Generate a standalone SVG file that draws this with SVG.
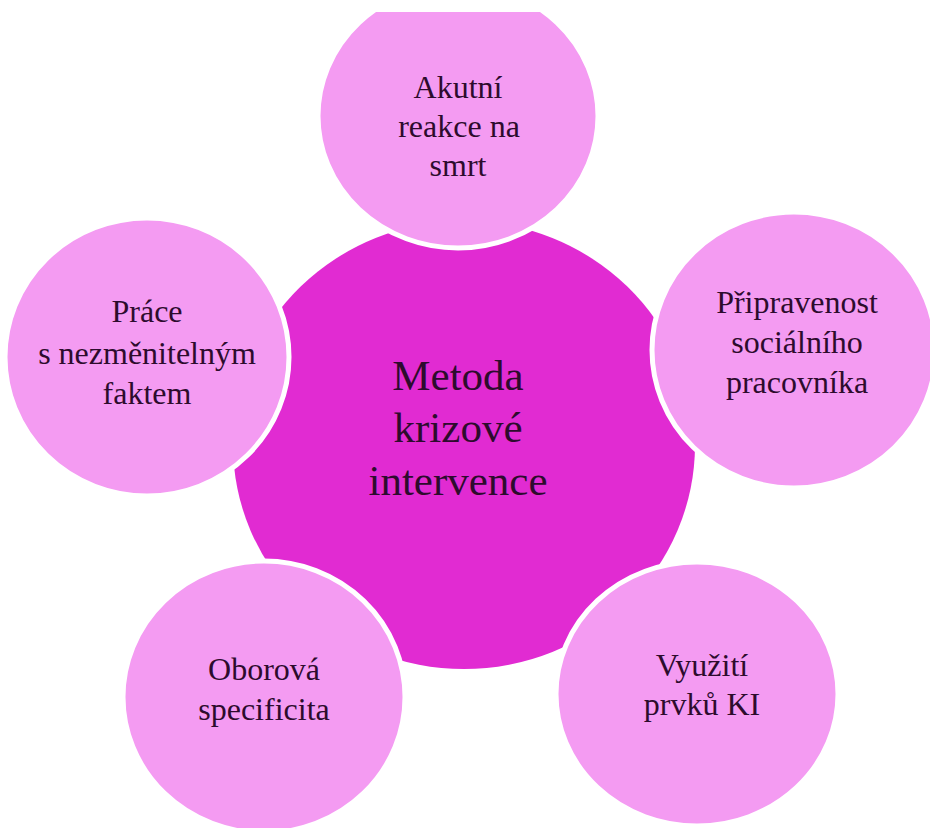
<svg xmlns="http://www.w3.org/2000/svg" width="930" height="828" viewBox="0 0 930 828">
  <style>
    .outer { fill: #F49BF2; stroke: #ffffff; stroke-width: 5; }
    .center { fill: #E12BD2; }
    .lbl { font-family: "Liberation Serif", "Times New Roman", serif; font-size: 32px; fill: #2d0b2d; text-anchor: middle; }
    .main { font-family: "Liberation Serif", "Times New Roman", serif; font-size: 43px; fill: #2d0b2d; text-anchor: middle; }
  </style>
  <defs>
    <clipPath id="topclip">
      <rect x="0" y="12" width="930" height="816"/>
    </clipPath>
  </defs>
  <rect x="0" y="0" width="930" height="828" fill="#ffffff"/>
  <g id="connectors"></g>
  <g id="node-center">
    <ellipse class="center" cx="464" cy="445" rx="231" ry="224"/>
    <text class="main" x="458" y="390">Metoda</text>
    <text class="main" x="458" y="442">krizové</text>
    <text class="main" x="458" y="495">intervence</text>
  </g>
  <g id="node-top">
    <ellipse class="outer" cx="458" cy="116" rx="140" ry="132" clip-path="url(#topclip)"/>
    <text class="lbl" x="458" y="98">Akutní</text>
    <text class="lbl" x="459" y="137">reakce na</text>
    <text class="lbl" x="458" y="176">smrt</text>
  </g>
  <g id="node-left">
    <ellipse class="outer" cx="147" cy="357" rx="142" ry="139"/>
    <text class="lbl" x="147" y="322">Práce</text>
    <text class="lbl" x="147" y="364">s nezměnitelným</text>
    <text class="lbl" x="147" y="404">faktem</text>
  </g>
  <g id="node-right">
    <ellipse class="outer" cx="794" cy="350" rx="142" ry="138"/>
    <text class="lbl" x="797" y="313">Připravenost</text>
    <text class="lbl" x="797" y="353">sociálního</text>
    <text class="lbl" x="797" y="393">pracovníka</text>
  </g>
  <g id="node-bottom-left">
    <ellipse class="outer" cx="264" cy="697" rx="141" ry="136"/>
    <text class="lbl" x="264" y="680">Oborová</text>
    <text class="lbl" x="264" y="720">specificita</text>
  </g>
  <g id="node-bottom-right">
    <ellipse class="outer" cx="697" cy="694" rx="141" ry="132"/>
    <text class="lbl" x="702" y="676">Využití</text>
    <text class="lbl" x="702" y="715">prvků KI</text>
  </g>
</svg>
